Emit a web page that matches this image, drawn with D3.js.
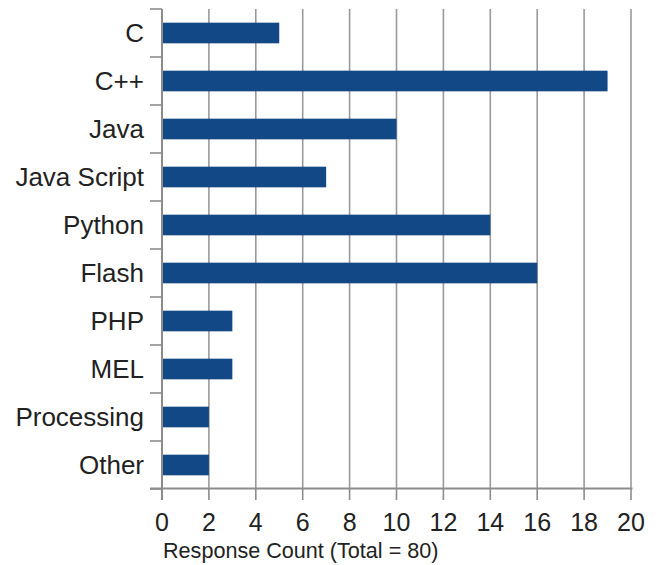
<!DOCTYPE html>
<html>
<head>
<meta charset="utf-8">
<script src="https://cdn.jsdelivr.net/npm/d3@7"></script>
<style>
  html, body { margin: 0; padding: 0; background: #fff; }
  svg { display: block; font-family: "Liberation Sans", Arial, sans-serif; }
</style>
</head>
<body>
<svg id="chart" width="660" height="565"></svg>
<script>
const categories = ["C", "C++", "Java", "Java Script", "Python", "Flash", "PHP", "MEL", "Processing", "Other"];
const counts = [5, 19, 10, 7, 14, 16, 3, 3, 2, 2];
const xTicks = [0, 2, 4, 6, 8, 10, 12, 14, 16, 18, 20];
const xTitle = "Response Count (Total = 80)";

const svg = d3.select("#chart");
const mLeft = 162, mRight = 631, mTop = 9, mBottom = 489;

const x = d3.scaleLinear().domain([0, 20]).range([mLeft, mRight]);
const y = d3.scaleBand().domain(categories).range([mTop, mBottom])
  .paddingInner(0.57).paddingOuter(0.285);
const step = y.step();
const bandTop = d => y(d) - step * 0.285;

// gridlines
svg.append("g").selectAll("line").data(xTicks.filter(t => t > 0)).join("line")
  .attr("x1", d => x(d)).attr("x2", d => x(d))
  .attr("y1", mTop).attr("y2", mBottom)
  .attr("stroke", "#9a9a9a").attr("stroke-width", 1.6);

// bars
svg.append("g").selectAll("rect").data(categories).join("rect")
  .attr("x", x(0))
  .attr("y", d => y(d))
  .attr("width", (d, i) => x(counts[i]) - x(0))
  .attr("height", y.bandwidth())
  .attr("fill", "#134886");

// y axis line and ticks
const axisColor = "#8c8c8c";
svg.append("line").attr("x1", mLeft).attr("x2", mLeft).attr("y1", mTop).attr("y2", mBottom + 11)
  .attr("stroke", axisColor).attr("stroke-width", 2);
const yTickPos = categories.map(bandTop).concat([mBottom]);
svg.append("g").selectAll("line").data(yTickPos).join("line")
  .attr("x1", mLeft - 12).attr("x2", mLeft)
  .attr("y1", d => d).attr("y2", d => d)
  .attr("stroke", axisColor).attr("stroke-width", 1.6);

// x axis line and ticks
svg.append("line").attr("x1", mLeft - 12).attr("x2", mRight + 1.5).attr("y1", mBottom - 0.5).attr("y2", mBottom - 0.5)
  .attr("stroke", axisColor).attr("stroke-width", 2);
svg.append("g").selectAll("line").data(xTicks).join("line")
  .attr("x1", d => x(d)).attr("x2", d => x(d))
  .attr("y1", mBottom).attr("y2", mBottom + 11)
  .attr("stroke", axisColor).attr("stroke-width", 1.6);

// category labels
svg.append("g").selectAll("text").data(categories).join("text")
  .attr("x", 144)
  .attr("y", d => y(d) + y.bandwidth() / 2)
  .attr("dy", "0.35em")
  .attr("text-anchor", "end")
  .attr("font-size", 26)
  .attr("fill", "#222")
  .text(d => d);

// x tick labels
svg.append("g").selectAll("text").data(xTicks).join("text")
  .attr("x", d => x(d))
  .attr("y", 531)
  .attr("text-anchor", "middle")
  .attr("font-size", 25)
  .attr("fill", "#222")
  .text(d => d);

// x axis title
svg.append("text")
  .attr("x", 163).attr("y", 557.5)
  .attr("font-size", 21.6)
  .attr("fill", "#222")
  .text(xTitle);
</script>
</body>
</html>
